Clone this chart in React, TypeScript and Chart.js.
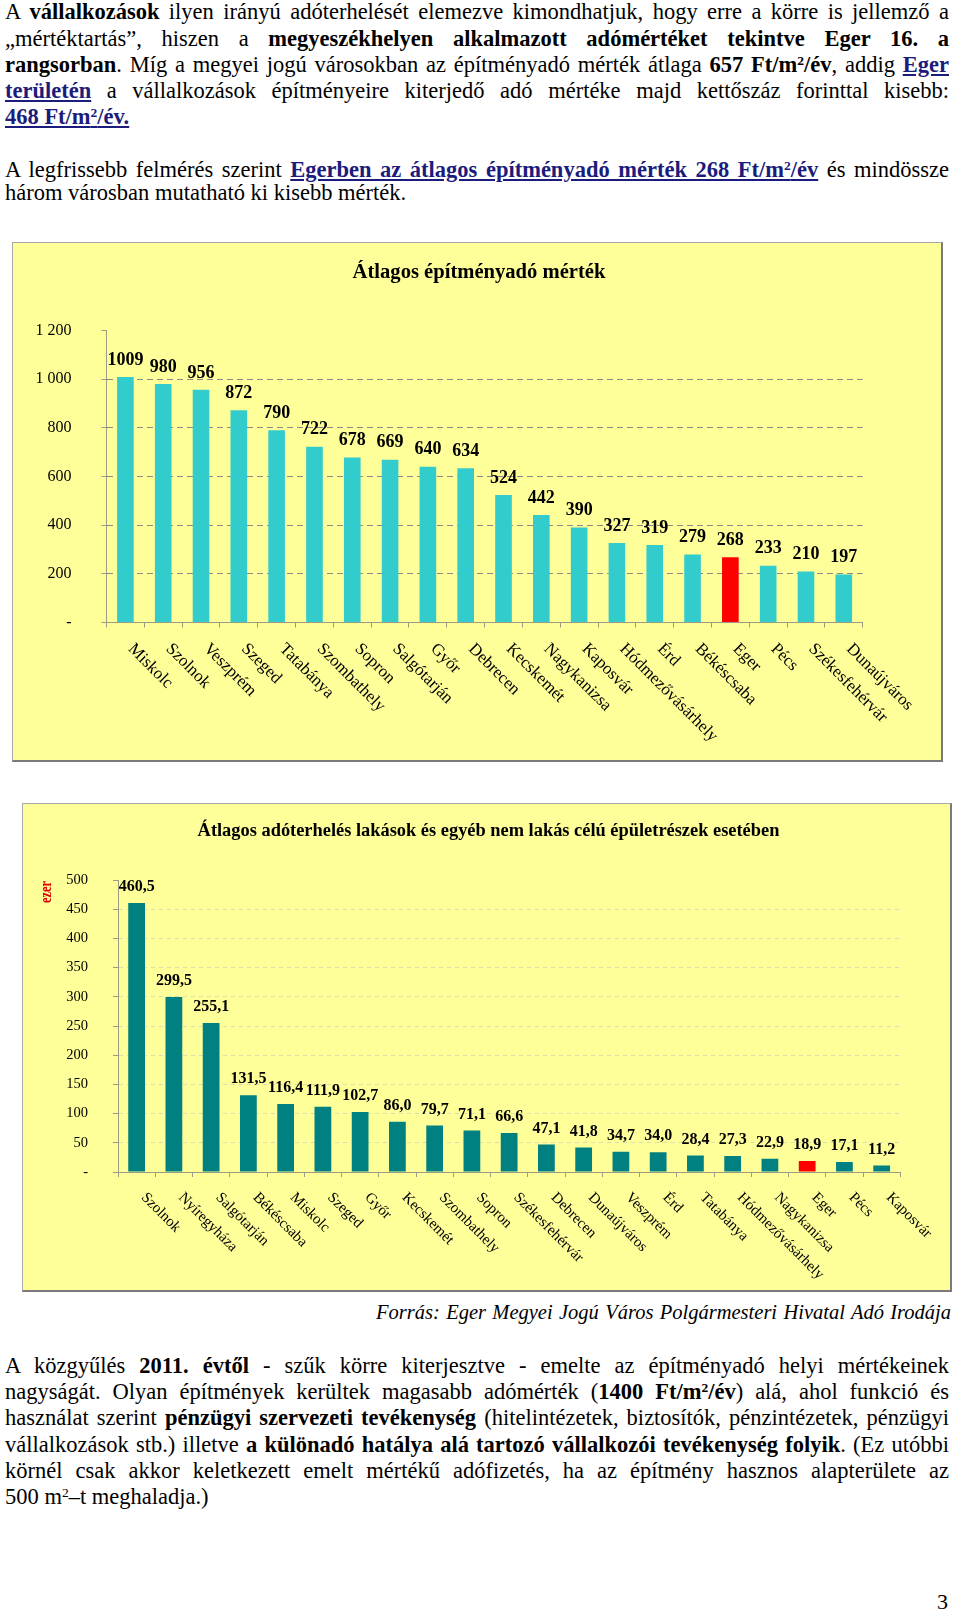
import React, { useEffect, useRef } from 'react';
import { Chart, registerables } from 'chart.js';

Chart.register(...registerables);

// ---------- data ----------
const cities1 = ['Miskolc', 'Szolnok', 'Veszprém', 'Szeged', 'Tatabánya', 'Szombathely', 'Sopron', 'Salgótarján', 'Győr', 'Debrecen', 'Kecskemét', 'Nagykanizsa', 'Kaposvár', 'Hódmezővásárhely', 'Érd', 'Békéscsaba', 'Eger', 'Pécs', 'Székesfehérvár', 'Dunaújváros'];
const rates1 = [1009, 980, 956, 872, 790, 722, 678, 669, 640, 634, 524, 442, 390, 327, 319, 279, 268, 233, 210, 197];
const yMax1 = 1200;
const yStep1 = 200;

const cities2 = ['Szolnok', 'Nyíregyháza', 'Salgótarján', 'Békéscsaba', 'Miskolc', 'Szeged', 'Győr', 'Kecskemét', 'Szombathely', 'Sopron', 'Székesfehérvár', 'Debrecen', 'Dunaújváros', 'Veszprém', 'Érd', 'Tatabánya', 'Hódmezővásárhely', 'Nagykanizsa', 'Eger', 'Pécs', 'Kaposvár'];
const burden2 = [460.5, 299.5, 255.1, 131.5, 116.4, 111.9, 102.7, 86.0, 79.7, 71.1, 66.6, 47.1, 41.8, 34.7, 34.0, 28.4, 27.3, 22.9, 18.9, 17.1, 11.2];
const yMax2 = 500;
const yStep2 = 50;

const highlightCity = 'Eger';
const title1 = 'Átlagos építményadó mérték';
const title2 = 'Átlagos adóterhelés lakások és egyéb nem lakás célú épületrészek esetében';
const unit2 = 'ezer';

const SERIF = "'Liberation Serif', 'Times New Roman', Times, serif";

// ---------- plugin ----------
const decoPlugin = {
  id: 'deco',
  afterDatasetsDraw(chart: any, _args: any, opts: any) {
    const ctx = chart.ctx;
    const meta = chart.getDatasetMeta(0);
    const vals = chart.data.datasets[0].data;
    ctx.save();
    ctx.fillStyle = '#000';
    ctx.font = opts.valueFont;
    ctx.textAlign = 'center';
    ctx.textBaseline = 'middle';
    meta.data.forEach((bar: any, i: number) => {
      ctx.fillText(opts.format(vals[i]), bar.x, bar.y - opts.valueGap);
    });
    const xs = chart.scales.x;
    ctx.font = opts.labelFont;
    ctx.textAlign = 'left';
    ctx.textBaseline = 'alphabetic';
    chart.data.labels.forEach((lab: string, i: number) => {
      const x = xs.getPixelForValue(i);
      ctx.save();
      ctx.translate(x + opts.labelDx, xs.top + opts.labelDy);
      ctx.rotate(Math.PI / 4);
      ctx.fillText(lab, 0, 0);
      ctx.restore();
    });
    // title
    ctx.font = opts.titleFont;
    ctx.textAlign = 'center';
    ctx.textBaseline = 'middle';
    ctx.fillText(opts.title, opts.titleX, opts.titleY);
    if (opts.unit) {
      ctx.save();
      ctx.translate(opts.unitX, opts.unitY);
      ctx.rotate(-Math.PI / 2);
      ctx.scale(0.82, 1.1);
      ctx.fillStyle = '#E00000';
      ctx.font = opts.unitFont;
      ctx.fillText(opts.unit, 0, 0);
      ctx.restore();
    }
    ctx.restore();
  },
};

const AXIS = '#9c9c84';

function makeConfig(p: any) {
  return {
    type: 'bar',
    data: {
      labels: p.labels,
      datasets: [
        {
          data: p.values,
          backgroundColor: p.labels.map((c: string) => (c === highlightCity ? '#FF0000' : p.color)),
          barPercentage: p.barPct,
          categoryPercentage: 1,
        },
      ],
    },
    plugins: [decoPlugin],
    options: {
      animation: false,
      responsive: false,
      maintainAspectRatio: false,
      devicePixelRatio: 1,
      layout: { padding: { left: 0, top: p.areaTop, right: p.padRight, bottom: 0 } },
      plugins: {
        legend: { display: false },
        title: { display: false },
        tooltip: { enabled: false },
        deco: {
          valueFont: p.valueFont,
          valueGap: p.valueGap,
          format: p.format,
          labelFont: p.labelFont,
          labelDx: p.labelDx,
          labelDy: p.labelDy,
          title: p.title,
          titleFont: p.titleFont,
          titleX: p.titleX,
          titleY: p.titleY,
          unit: p.unit,
          unitFont: p.unitFont,
          unitX: p.unitX,
          unitY: p.unitY,
        },
      },
      scales: {
        x: {
          ticks: { display: false },
          grid: { drawOnChartArea: false, drawTicks: true, tickLength: 5, color: AXIS, tickColor: AXIS },
          border: { color: AXIS, width: 1 },
          afterFit: (s: any) => { s.height = p.xHeight; },
        },
        y: {
          min: 0,
          max: p.yMax,
          ticks: {
            stepSize: p.yStep,
            color: '#000',
            padding: p.tickPad,
            font: { family: SERIF, size: p.tickSize },
            callback: p.tickFmt,
          },
          grid: {
            color: (c: any) => (c.tick && (c.tick.value === 0 || c.tick.value === p.yMax) ? 'rgba(0,0,0,0)' : p.gridColor),
            tickColor: AXIS,
            tickLength: 5,
            lineWidth: 1,
          },
          border: { color: AXIS, width: 1, dash: p.gridDash },
          afterFit: (s: any) => { s.width = p.yWidth; },
        },
      },
    },
  };
}

const cfg1 = makeConfig({
  labels: cities1,
  values: rates1,
  color: '#33CCCC',
  barPct: 0.44,
  areaTop: 88.5,
  padRight: 80.3,
  xHeight: 139.5,
  yWidth: 94.5,
  yMax: yMax1,
  yStep: yStep1,
  tickPad: 30,
  tickSize: 16,
  tickFmt: (v: number) => (v === 0 ? '-' : v >= 1000 ? `${Math.floor(v / 1000)} ${String(v % 1000).padStart(3, '0')}` : String(v)),
  gridColor: '#8a8a8a',
  gridDash: [6, 4],
  valueFont: `bold 18px ${SERIF}`,
  valueGap: 17,
  format: (v: number) => String(v),
  labelFont: `17px ${SERIF}`,
  labelDx: 2,
  labelDy: 27,
  title: title1,
  titleFont: `bold 20.6px ${SERIF}`,
  titleX: 467,
  titleY: 31,
});

const cfg2 = makeConfig({
  labels: cities2,
  values: burden2,
  color: '#008080',
  barPct: 0.45,
  areaTop: 77,
  padRight: 51.7,
  xHeight: 120,
  yWidth: 96,
  yMax: yMax2,
  yStep: yStep2,
  tickPad: 25,
  tickSize: 14.5,
  tickFmt: (v: number) => (v === 0 ? '-' : String(v)),
  gridColor: '#dcdcae',
  gridDash: [4, 4],
  valueFont: `bold 16px ${SERIF}`,
  valueGap: 16,
  format: (v: number) => v.toFixed(1).replace('.', ','),
  labelFont: `15px ${SERIF}`,
  labelDx: 4,
  labelDy: 26,
  title: title2,
  titleFont: `bold 18.4px ${SERIF}`,
  titleX: 466.5,
  titleY: 28,
  unit: unit2,
  unitFont: `bold 15px ${SERIF}`,
  unitX: 25,
  unitY: 89,
});

function ChartBox({ cfg, left, top, width, height }: any) {
  const ref = useRef<HTMLCanvasElement>(null);
  useEffect(() => {
    const chart = new Chart(ref.current as HTMLCanvasElement, cfg as any);
    return () => chart.destroy();
  }, []);
  return (
    <div
      style={{
        position: 'absolute', left, top, width, height, boxSizing: 'border-box',
        background: '#FFFF99', border: '1px solid #a8a8a8', borderRightColor: '#7a7a7a', borderBottomColor: '#7a7a7a',
        borderRightWidth: 2, borderBottomWidth: 2,
      }}
    >
      <canvas ref={ref} width={width} height={height} style={{ position: 'absolute', left: -1, top: -1, width, height }} />
    </div>
  );
}

// ---------- text helpers ----------
const B = ({ children }: any) => <b>{children}</b>;
const L = ({ children }: any) => <b style={{ color: '#1c1c7c', textDecoration: 'underline' }}>{children}</b>;
const S = () => <sup style={{ fontSize: '0.6em', lineHeight: 0, verticalAlign: '0.55em' }}>2</sup>;

function Line({ y, children, justify = true }: any) {
  return (
    <div
      style={{
        position: 'absolute', left: 5, width: 944, top: y - 13, height: 26, lineHeight: '26px',
        fontSize: 22.5, fontFamily: SERIF, color: '#000', whiteSpace: 'normal',
        textAlign: justify ? 'justify' : 'left', textAlignLast: justify ? 'justify' : 'left',
      } as any}
    >
      {children}
    </div>
  );
}

export default function App() {
  return (
    <div style={{ position: 'absolute', left: 0, top: 0, width: 960, height: 1614, background: '#fff', fontFamily: SERIF }}>
      <Line y={12}>A <B>vállalkozások</B> ilyen irányú adóterhelését elemezve kimondhatjuk, hogy erre a körre is jellemző a</Line>
      <Line y={39}>„mértéktartás”, hiszen a <B>megyeszékhelyen alkalmazott adómértéket tekintve Eger 16. a</B></Line>
      <Line y={65}><B>rangsorban</B>. Míg a megyei jogú városokban az építményadó mérték átlaga <B>657 Ft/m<S />/év</B>, addig <L>Eger</L></Line>
      <Line y={91}><L>területén</L> a vállalkozások építményeire kiterjedő adó mértéke majd kettőszáz forinttal kisebb:</Line>
      <Line y={117} justify={false}><L>468 Ft/m<S />/év.</L></Line>

      <Line y={170}>A legfrissebb felmérés szerint <L>Egerben az átlagos építményadó mérték 268 Ft/m<S />/év</L> és mindössze</Line>
      <Line y={193} justify={false}>három városban mutatható ki kisebb mérték.</Line>

      <ChartBox cfg={cfg1} left={12} top={242} width={931} height={520} />
      <ChartBox cfg={cfg2} left={22} top={803} width={930} height={489} />

      <div style={{ position: 'absolute', left: 376, width: 575, top: 1299, height: 26, lineHeight: '26px', fontSize: 20.5, fontStyle: 'italic', fontFamily: SERIF, textAlign: 'justify', textAlignLast: 'justify' } as any}>
        Forrás: Eger Megyei Jogú Város Polgármesteri Hivatal Adó Irodája
      </div>

      <Line y={1366}>A közgyűlés <B>2011. évtől</B> - szűk körre kiterjesztve - emelte az építményadó helyi mértékeinek</Line>
      <Line y={1392}>nagyságát. Olyan építmények kerültek magasabb adómérték (<B>1400 Ft/m<S />/év</B>) alá, ahol funkció és</Line>
      <Line y={1418}>használat szerint <B>pénzügyi szervezeti tevékenység</B> (hitelintézetek, biztosítók, pénzintézetek, pénzügyi</Line>
      <Line y={1445}>vállalkozások stb.) illetve <B>a különadó hatálya alá tartozó vállalkozói tevékenység folyik</B>. (Ez utóbbi</Line>
      <Line y={1471}>körnél csak akkor keletkezett emelt mértékű adófizetés, ha az építmény hasznos alapterülete az</Line>
      <Line y={1497} justify={false}>500 m<S />–t meghaladja.)</Line>

      <div style={{ position: 'absolute', right: 12, top: 1589, height: 26, lineHeight: '26px', fontSize: 22, fontFamily: SERIF }}>3</div>
    </div>
  );
}
